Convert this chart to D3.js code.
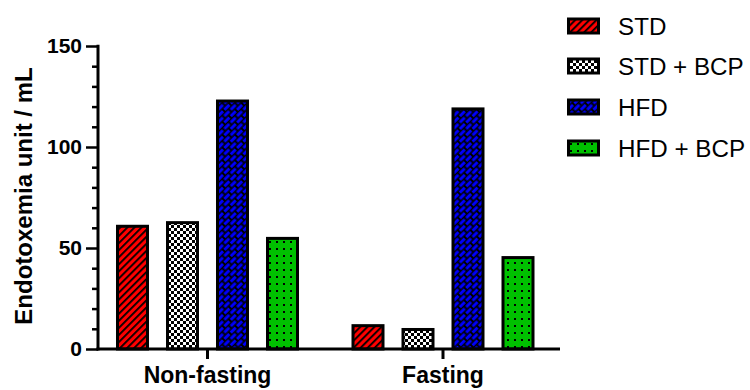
<!DOCTYPE html>
<html><head><meta charset="utf-8">
<script src="https://cdn.jsdelivr.net/npm/d3@7"></script>
<style>html,body{margin:0;padding:0;background:#fff;} svg{display:block;font-family:"Liberation Sans",Arial,sans-serif;}</style>
</head><body><div id="chart"></div>
<script>
const groups = ["Non-fasting", "Fasting"];
const series = ["STD", "STD + BCP", "HFD", "HFD + BCP"];
const nonFasting = [61.5, 63.3, 123.5, 55.5];
const fasting = [12.3, 10.4, 119.6, 46.0];
const yTicks = [0, 50, 100, 150];
const yMinorTicks = [10, 20, 30, 40, 60, 70, 80, 90, 110, 120, 130, 140];
const values = [nonFasting, fasting];

const W = 750, H = 390;
const svg = d3.select("#chart").append("svg").attr("width", W).attr("height", H);
const defs = svg.append("defs");

// patterns
const pRed = defs.append("pattern").attr("id","pRed").attr("patternUnits","userSpaceOnUse")
  .attr("width",5).attr("height",5).attr("patternTransform","rotate(45)");
pRed.append("rect").attr("width",5).attr("height",5).attr("fill","#ff0000");
pRed.append("rect").attr("x",0).attr("width",1.8).attr("height",5).attr("fill","#000");

const pChk = defs.append("pattern").attr("id","pChk").attr("patternUnits","userSpaceOnUse")
  .attr("width",6).attr("height",6);
pChk.append("rect").attr("width",6).attr("height",6).attr("fill","#fff");
pChk.append("rect").attr("width",3).attr("height",3).attr("fill","#000");
pChk.append("rect").attr("x",3).attr("y",3).attr("width",3).attr("height",3).attr("fill","#000");

const pBlue = defs.append("pattern").attr("id","pBlue").attr("patternUnits","userSpaceOnUse")
  .attr("width",9).attr("height",9).attr("patternTransform","rotate(-45)");
pBlue.append("rect").attr("width",9).attr("height",9).attr("fill","#000");
pBlue.append("rect").attr("x",0).attr("y",0.8).attr("width",7).attr("height",3).attr("fill","#0000ff");
pBlue.append("rect").attr("x",4.5).attr("y",5.3).attr("width",7).attr("height",3).attr("fill","#0000ff");
pBlue.append("rect").attr("x",-4.5).attr("y",5.3).attr("width",7).attr("height",3).attr("fill","#0000ff");

const pGreen = defs.append("pattern").attr("id","pGreen").attr("patternUnits","userSpaceOnUse")
  .attr("width",7).attr("height",7);
pGreen.append("rect").attr("width",7).attr("height",7).attr("fill","#00c000");
pGreen.append("rect").attr("x",3).attr("y",3).attr("width",2).attr("height",2).attr("fill","#000");

const fills = ["url(#pRed)","url(#pChk)","url(#pBlue)","url(#pGreen)"];

// scales
const y = d3.scaleLinear().domain([0,150]).range([349,46]);
const x0 = d3.scaleBand().domain(groups).range([89.75, 560.75]);
const x1 = d3.scaleBand().domain(series).range([-100,100]).paddingInner(0.34).paddingOuter(0.17);

// bars
const gBars = svg.append("g");
groups.forEach((g, gi) => {
  const cx = x0(g) + x0.bandwidth()/2;
  gBars.selectAll(null).data(series).enter().append("rect")
    .attr("x", s => cx + x1(s) + 1.5)
    .attr("width", x1.bandwidth() - 3)
    .attr("y", (s,i) => y(values[gi][i]) + 1.5)
    .attr("height", (s,i) => y(0) - y(values[gi][i]) - 1.5)
    .attr("fill", (s,i) => fills[i])
    .attr("stroke", "#000").attr("stroke-width", 3);
});

// y axis
const yAxis = svg.append("g").attr("transform","translate(98,0)")
  .call(d3.axisLeft(y).tickValues(yTicks).tickSize(12).tickPadding(4).tickFormat(d3.format("d")));
yAxis.select(".domain").remove();
yAxis.selectAll(".tick line").attr("stroke","#000").attr("stroke-width",2.5);
yAxis.selectAll(".tick text").attr("font-size",21).attr("font-weight","bold").attr("fill","#000")
  .attr("font-family","'Liberation Sans',Arial,sans-serif");
const yMinor = svg.append("g").attr("transform","translate(98,0)")
  .call(d3.axisLeft(y).tickValues(yMinorTicks).tickSize(6).tickFormat(""));
yMinor.select(".domain").remove();
yMinor.selectAll(".tick line").attr("stroke","#000").attr("stroke-width",2.5);
svg.append("line").attr("x1",98).attr("x2",98).attr("y1",y(150)-1.2).attr("y2",y(0)+1.5)
  .attr("stroke","#000").attr("stroke-width",3);

// x axis
const xAxis = svg.append("g").attr("transform","translate(0,349)")
  .call(d3.axisBottom(x0).tickSize(10).tickPadding(8));
xAxis.select(".domain").remove();
xAxis.selectAll(".tick line").attr("stroke","#000").attr("stroke-width",3);
xAxis.selectAll(".tick text").attr("font-size",23).attr("font-weight","bold").attr("fill","#000")
  .attr("font-family","'Liberation Sans',Arial,sans-serif");
svg.append("line").attr("x1",96.5).attr("x2",560).attr("y1",349).attr("y2",349)
  .attr("stroke","#000").attr("stroke-width",3);

// y title
svg.append("text").attr("transform","translate(32,196) rotate(-90)")
  .attr("text-anchor","middle").attr("font-size",24).attr("font-weight","bold").attr("fill","#000")
  .text("Endotoxemia unit / mL");

// legend
const legY = [26, 66, 107, 148];
const leg = svg.append("g");
series.forEach((s,i) => {
  leg.append("rect").attr("x",568.5).attr("y",legY[i]-7).attr("width",30).attr("height",14)
    .attr("fill",fills[i]).attr("stroke","#000").attr("stroke-width",3);
  leg.append("text").attr("x",618).attr("y",legY[i]).attr("dy","0.36em")
    .attr("font-size",24.2).attr("fill","#000").text(s);
});
</script></body></html>
